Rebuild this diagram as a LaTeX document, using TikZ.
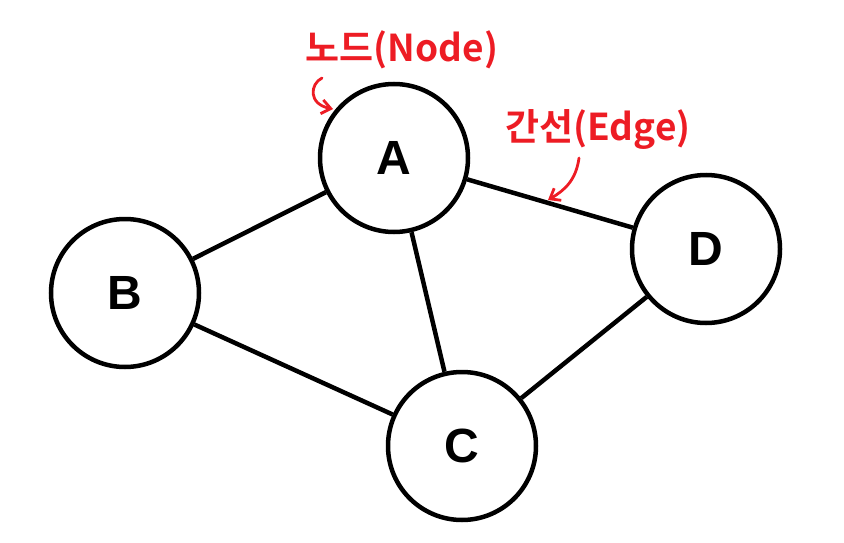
\documentclass[tikz,border=0pt]{standalone}
\usepackage{fontspec}
\setmainfont{Liberation Sans}
\newfontfamily\kor{Noto Sans CJK KR Bold}
\usetikzlibrary{arrows.meta}
\definecolor{pred}{HTML}{ED1C24}
\tikzset{
  vtx/.style={circle, draw=black, line width=4.5pt, minimum size=148pt, inner sep=0pt, font=\fontsize{48}{48}\selectfont\bfseries},
  edg/.style={line width=4.5pt},
  ann/.style={text=pred, font=\kor\fontsize{37}{37}\selectfont, inner sep=0pt},
  squig/.style={draw=pred, line width=2.8pt, line cap=round, line join=round, -{Straight Barb[length=9pt, width=14pt, line width=2.8pt]}}
}
\begin{document}
\begin{tikzpicture}[x=1pt, y=-1pt]
\useasboundingbox (0,0) rectangle (844,543);
\node[vtx] (A) at (394,158) {A};
\node[vtx] (B) at (125,293) {B};
\node[vtx] (C) at (462,446) {C};
\node[vtx] (D) at (706,249) {D};
\draw[edg] (A) -- (B);
\draw[edg] (A) -- (C);
\draw[edg] (A) -- (D);
\draw[edg] (B) -- (C);
\draw[edg] (C) -- (D);
\node[ann] (ln) at (402,50) {노드(Node)};
\node[ann] (le) at (598,130) {간선(Edge)};
\coordinate (n0) at (322,78);
\coordinate (n1) at (333,109);
\coordinate (e0) at (579,158);
\coordinate (e1) at (548,200);
\draw[squig] (n0) .. controls (310,84) and (308,104) .. (n1);
\draw[squig] (e0) .. controls (576,180) and (565,190) .. (e1);
\end{tikzpicture}
\end{document}
